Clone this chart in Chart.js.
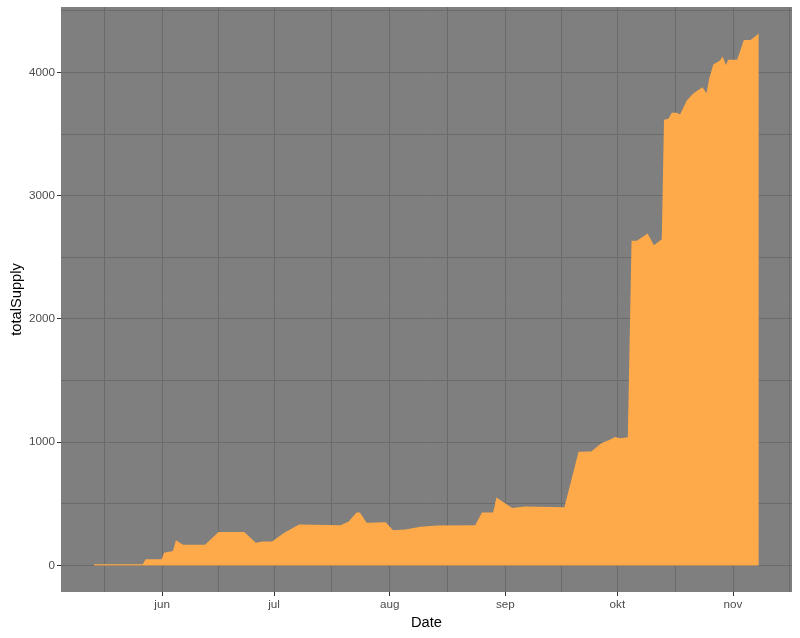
<!DOCTYPE html>
<html>
<head>
<meta charset="utf-8">
<script src="https://cdn.jsdelivr.net/npm/chart.js@4"></script>
<style>
  body { margin: 0; background: #ffffff; }
  #wrap { width: 800px; height: 638px; }
</style>
</head>
<body>
<div id="wrap"><canvas id="supplyChart" width="800" height="638"></canvas></div>
<script>
// days counted from 1 June
const dayOffsets = [-18.3, -5.2, -4.4, -0.1, 0.5, 2.9, 3.7, 5.6, 11.5, 15.1, 22.0, 25.1, 26.9, 29.5, 32.6, 36.7,
  47.8, 50.0, 52.1, 53.0, 54.8, 59.9, 61.9, 65.2, 69.2, 73.7, 83.9, 85.7, 88.7, 89.6, 93.8, 97.3, 107.8, 111.6,
  115.0, 117.8, 120.0, 121.4, 122.7, 124.8, 125.8, 127.2, 130.1, 131.8, 133.9, 134.5, 135.7, 136.6, 137.9, 138.8,
  140.6, 142.4, 144.8, 145.9, 146.6, 147.7, 149.5, 150.2, 151.1, 151.7, 154.1, 155.9, 157.7, 159.9];
const totalSupply = [10, 10, 49, 49, 103, 116, 205, 168, 168, 270, 270, 184, 194, 194, 262, 332,
  326, 356, 429, 429, 346, 350, 286, 291, 313, 324, 326, 429, 429, 551, 466, 478, 472, 923,
  925, 993, 1020, 1042, 1031, 1039, 2634, 2634, 2694, 2599, 2648, 3617, 3625, 3674, 3674, 3660,
  3773, 3832, 3881, 3832, 3949, 4065, 4097, 4130, 4062, 4103, 4103, 4265, 4265, 4316];

const monthStarts = [0, 30, 61, 92, 122, 153];
const monthLabels = ['jun', 'jul', 'aug', 'sep', 'okt', 'nov'];
const monthMinor = [-15.5, 15, 45.5, 76.5, 107, 137.5, 168];

const yMajor = [0, 1000, 2000, 3000, 4000];
const yMinor = [500, 1500, 2500, 3500, 4500];

const panelBg = {
  id: 'panelBg',
  beforeDraw(chart) {
    const { ctx, chartArea: a } = chart;
    ctx.save();
    ctx.fillStyle = '#7F7F7F';
    ctx.fillRect(a.left, a.top, a.right - a.left, a.bottom - a.top);
    ctx.restore();
  }
};

document.addEventListener("DOMContentLoaded", function () {
  const ctx = document.getElementById('supplyChart').getContext('2d');

  const tickColor = (majors) => (c) => (c.tick && majors.includes(c.tick.value)) ? '#333333' : 'rgba(0,0,0,0)';

  new Chart(ctx, {
    type: 'line',
    data: {
      datasets: [{
        label: 'totalSupply',
        data: dayOffsets.map((d, i) => ({ x: d, y: totalSupply[i] })),
        fill: 'origin',
        backgroundColor: '#FFAA4A',
        borderWidth: 0,
        pointRadius: 0,
        tension: 0
      }]
    },
    options: {
      responsive: false,
      animation: false,
      layout: { padding: { left: 0, right: 8, top: 7, bottom: 0 } },
      plugins: {
        legend: { display: false },
        tooltip: { enabled: false }
      },
      scales: {
        x: {
          type: 'linear',
          min: -27.1,
          max: 168.8,
          afterBuildTicks: (scale) => {
            scale.ticks = [...monthStarts, ...monthMinor].sort((a, b) => a - b).map(v => ({ value: v }));
          },
          afterFit: (scale) => {
            scale.height = 46;
            scale.paddingLeft = 0;
            scale.paddingRight = 0;
          },
          ticks: {
            autoSkip: false,
            maxRotation: 0,
            padding: 2,
            color: '#4D4D4D',
            font: { family: 'Liberation Sans', size: 11.7 },
            callback: (v) => {
              const i = monthStarts.indexOf(v);
              return i >= 0 ? monthLabels[i] : '';
            }
          },
          grid: {
            color: '#6B6B6B',
            lineWidth: 1,
            tickLength: 4,
            tickColor: tickColor(monthStarts),
            tickWidth: 1
          },
          border: { display: false },
          title: {
            display: true,
            text: 'Date',
            color: '#000000',
            font: { family: 'Liberation Sans', size: 14.7 },
            padding: { top: 0, bottom: 6 }
          }
        },
        y: {
          min: -216,
          max: 4532,
          afterBuildTicks: (scale) => {
            scale.ticks = [...yMajor, ...yMinor].sort((a, b) => a - b).map(v => ({ value: v }));
          },
          afterFit: (scale) => {
            scale.width = 61;
            scale.paddingTop = 0;
            scale.paddingBottom = 0;
          },
          ticks: {
            autoSkip: false,
            padding: 2,
            color: '#4D4D4D',
            font: { family: 'Liberation Sans', size: 11.7 },
            callback: (v) => yMajor.includes(v) ? String(v) : ''
          },
          grid: {
            color: '#6B6B6B',
            lineWidth: 1,
            tickLength: 4,
            tickColor: tickColor(yMajor),
            tickWidth: 1
          },
          border: { display: false },
          title: {
            display: true,
            text: 'totalSupply',
            color: '#000000',
            font: { family: 'Liberation Sans', size: 14.7 },
            padding: { top: 8, bottom: 0 }
          }
        }
      }
    },
    plugins: [panelBg]
  });
});
</script>
</body>
</html>
